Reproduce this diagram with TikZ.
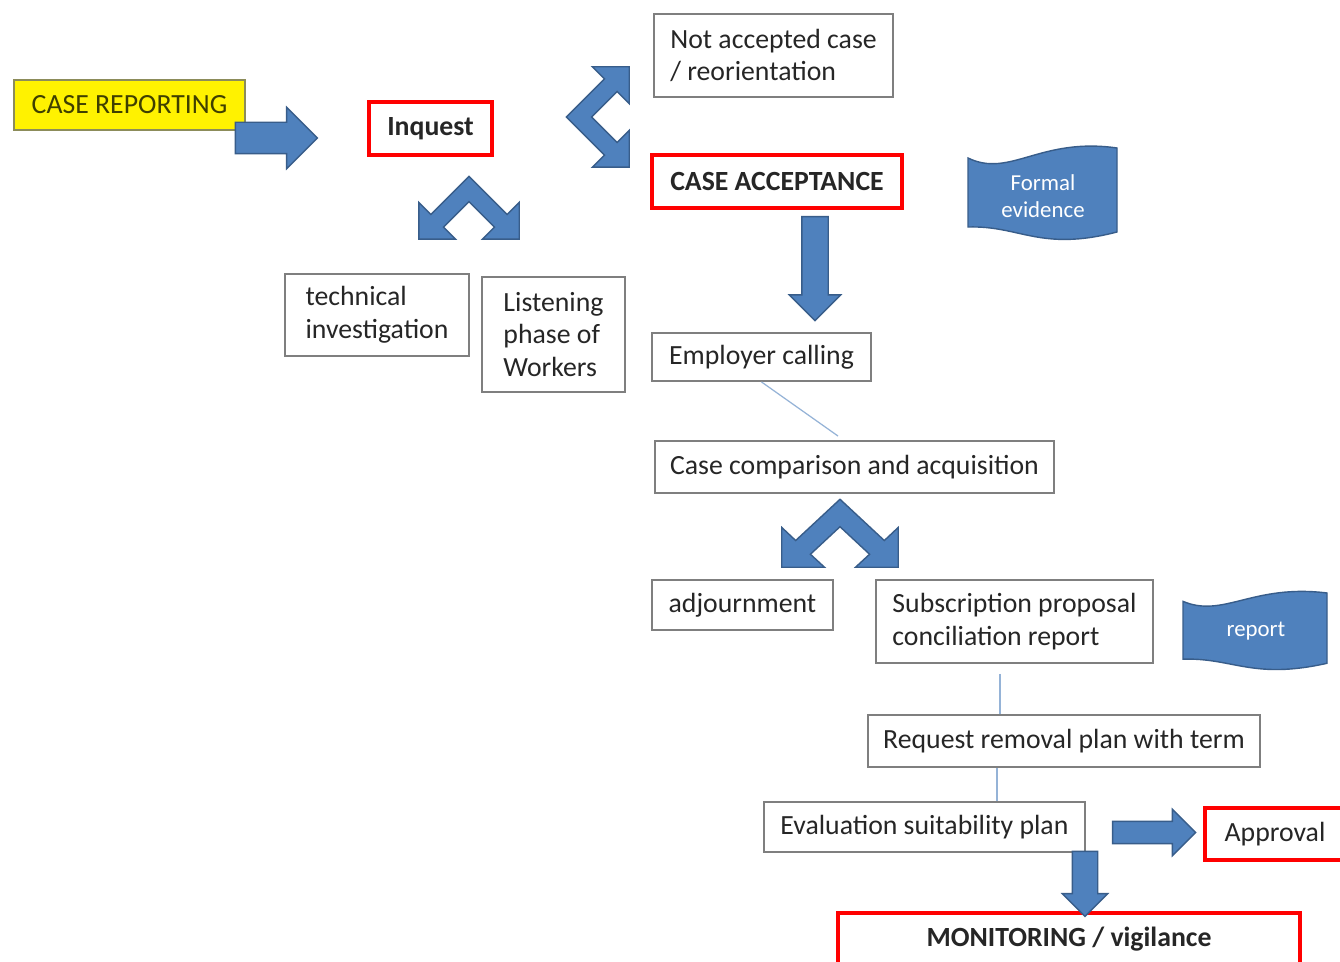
\documentclass[tikz,border=0pt]{standalone}
\usepackage{fontspec}
\setmainfont{Carlito}
\usepackage{xcolor}
\usetikzlibrary{shapes.arrows, positioning, calc}

\definecolor{officeblue}{HTML}{4F81BD}
\definecolor{officeline}{HTML}{385D8A}
\definecolor{boxgray}{HTML}{7F7F7F}
\definecolor{textdark}{HTML}{262626}
\definecolor{olivetext}{HTML}{3F3F00}
\definecolor{olivegray}{HTML}{8C8C5A}
\definecolor{linkblue}{HTML}{95B3D7}

\begin{document}
\begin{tikzpicture}[
  x=0.02cm, y=-0.02cm,
  box/.style={rectangle, draw=boxgray, line width=1.1pt, fill=white, align=left,
              inner sep=2pt, text=textdark, font=\fontsize{15.8}{18.5}\selectfont},
  redbox/.style={box, draw=red, line width=2.5pt, align=center},
  startbox/.style={box, fill=yellow, draw=olivegray, text=olivetext, align=center},
  blockarrow/.style={single arrow, fill=officeblue, draw=officeline, line width=0.8pt,
                     single arrow head indent=0pt},
  link/.style={draw=linkblue, line width=0.7pt},
  wavetext/.style={text=white, align=center, font=\fontsize{13}{15}\selectfont},
  chevron/.pic={
    \draw[fill=officeblue, draw=officeline, line width=0.8pt]
      (0,-12.7) -- (-38.2,25.5) -- (-50.2,13.4) -- (-50.2,50.2) -- (-13.4,50.2)
      -- (-25.5,38.2) -- (0,12.7) -- (25.5,38.2) -- (13.4,50.2) -- (50.2,50.2)
      -- (50.2,13.4) -- (38.2,25.5) -- cycle;
  },
  wave/.pic={
    \draw[fill=officeblue, draw=officeline, line width=0.8pt]
      (0,.109) .. controls (.282,.33) and (.483,-.12) .. (1,0)
      -- (1,.913) .. controls (.483,1.13) and (.349,.84) .. (0,.859) -- cycle;
  }
]
\path[use as bounding box, fill=white] (0,0) rectangle (1340,962);

\node[startbox, minimum width=4.62cm, minimum height=1.0cm] (reporting) at (129.5,105) {CASE REPORTING};
\node[redbox, minimum width=2.46cm, minimum height=1.06cm] (inquest) at (430.5,128.5) {\textbf{Inquest}};
\node[box, minimum width=4.78cm, minimum height=1.66cm] (notaccepted) at (773.5,55.5) {Not accepted case\\/ reorientation};
\node[redbox, minimum width=5.0cm, minimum height=1.06cm] (acceptance) at (777,181.5) {\textbf{CASE ACCEPTANCE}};
\node[box, minimum width=3.68cm, minimum height=1.64cm] (technical) at (377,315) {technical\\investigation};
\node[box, minimum width=2.86cm, minimum height=2.3cm] (listening) at (553.5,334.5) {Listening\\phase of\\Workers};
\node[box, minimum width=4.38cm, minimum height=0.96cm] (employer) at (761.5,357) {Employer calling};
\node[box, minimum width=7.98cm, minimum height=1.04cm] (comparison) at (854.5,467) {Case comparison and acquisition};
\node[box, minimum width=3.62cm, minimum height=1.0cm] (adjournment) at (742.5,605) {adjournment};
\node[box, minimum width=5.54cm, minimum height=1.66cm] (subscription) at (1014.5,621.5) {Subscription proposal\\conciliation report};
\node[box, minimum width=7.84cm, minimum height=1.04cm] (request) at (1064,741) {Request removal plan with term};
\node[box, minimum width=6.42cm, minimum height=1.0cm] (evaluation) at (924.5,827) {Evaluation suitability plan};
\node[redbox, minimum width=2.8cm, minimum height=1.04cm] (approval) at (1275,834) {Approval};
\node[redbox, minimum width=9.24cm, minimum height=1.04cm] (monitoring) at (1069,939) {\textbf{MONITORING / vigilance}};

\pic at (968,148) [xscale=149, yscale=92] {wave};
\node[wavetext] (formal) at (1043,196) {Formal\\evidence};
\pic at (1183,593) [xscale=144, yscale=77] {wave};
\node[wavetext] (report) at (1256,631) {report};

\pic at (469,189) {chevron};
\pic at (579,117) [rotate=90] {chevron};
\pic at (840,513) [xscale=1.16, yscale=1.08] {chevron};

\node[blockarrow, inner sep=0.3cm, minimum height=1.64cm, single arrow head extend=0.3cm] (toinquest) at (268.5,138) {};
\node[blockarrow, shape border rotate=270, inner sep=0.25cm, minimum height=2.08cm, single arrow head extend=0.25cm] (toemployer) at (815,262) {};
\node[blockarrow, inner sep=0.21cm, minimum height=1.66cm, single arrow head extend=0.24cm] (toapproval) at (1148.5,832.5) {};
\node[blockarrow, shape border rotate=270, inner sep=0.24cm, minimum height=1.3cm, single arrow head extend=0.2cm] (tomonitoring) at (1085,877.5) {};

\draw[link] (employer.south) -- ([xshift=-0.33cm, yshift=0.08cm]comparison.north);
\draw[link] ([xshift=-0.29cm, yshift=-0.2cm]subscription.south) -- ([xshift=-0.29cm]subscription.south |- request.north);
\draw[link] ([xshift=-1.34cm]request.south) -- ([xshift=-1.34cm]request.south |- evaluation.north);
\end{tikzpicture}
\end{document}
